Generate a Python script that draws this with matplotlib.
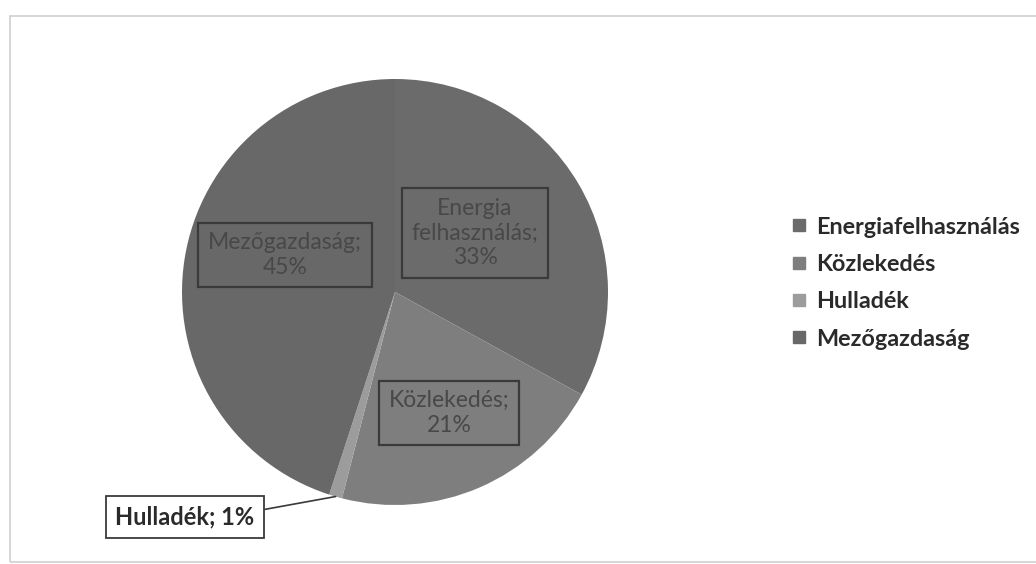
import numpy as np
import matplotlib
matplotlib.use("Agg")
import matplotlib.pyplot as plt
from matplotlib.lines import Line2D
from matplotlib.patches import Rectangle

plt.rcParams["font.family"] = ["Lato", "DejaVu Sans"]

# adatok
categories = ["Energiafelhasználás", "Közlekedés", "Hulladék", "Mezőgazdaság"]
shares = [33, 21, 1, 45]
label_texts = ["Energia\nfelhasználás;\n33%", "Közlekedés;\n21%", "Hulladék; 1%", "Mezőgazdaság;\n45%"]
colors = ["#6b6b6b", "#7e7e7e", "#9c9c9c", "#686868"]

W, H = 1036, 564
cx, cy, rad = 395, 292, 213  # pie center / radius in pixels

fig = plt.figure(figsize=(W / 100, H / 100), dpi=100)
ax = fig.add_axes([0, 0, 1, 1])
ax.axis("off")

# keret
fig.patches.append(Rectangle((10 / W, 1 - 562 / H), 1.2, (562 - 16) / H,
                             transform=fig.transFigure, fill=False,
                             edgecolor="#cfcfcf", lw=1.2))

wedges, _ = ax.pie(shares, colors=colors, startangle=90, counterclock=False,
                   radius=1, center=(0, 0),
                   wedgeprops=dict(edgecolor="none"))
# pie() resets limits, so set them afterwards
ax.set_xlim(-cx / rad, (W - cx) / rad)
ax.set_ylim(-(H - cy) / rad, cy / rad)


def px(x, y):
    return (x - cx) / rad, (cy - y) / rad


# címkék a körcikkeken belül (pixel elhelyezés)
inner_pos = {0: (475, 233), 1: (449, 413), 3: (285, 255)}
for i, (x, y) in inner_pos.items():
    tx, ty = px(x, y)
    ax.text(tx, ty, label_texts[i], ha="center", va="center", fontsize=16.5,
            color="#484848", linespacing=1.22,
            bbox=dict(boxstyle="square,pad=0.42", fc=colors[i],
                      ec="#3a3a3a", lw=1.6))

# Hulladék címke vezetővonallal
w = wedges[2]
mid = np.deg2rad((w.theta1 + w.theta2) / 2)
bx, by = px(185, 517)
ax.annotate(label_texts[2], xy=(np.cos(mid), np.sin(mid)), xytext=(bx, by),
            ha="center", va="center", fontsize=17, fontweight="bold",
            color="#2a2a2a",
            bbox=dict(boxstyle="square,pad=0.42", fc="white", ec="#3a3a3a", lw=1.3),
            arrowprops=dict(arrowstyle="-", color="#3a3a3a", lw=1.2,
                            relpos=(1, 0.75), shrinkA=0, shrinkB=0))

handles = [Line2D([], [], marker="s", ls="", markersize=8, color=c) for c in colors]
fig.legend(handles, categories, loc="upper left",
           bbox_to_anchor=(780 / W, 1 - 205 / H), frameon=False,
           prop=dict(size=16.8, weight="bold"), labelcolor="#2a2a2a",
           handlelength=0.6, handletextpad=0.45, labelspacing=0.7,
           borderpad=0)

fig.savefig("out.png", dpi=100)
